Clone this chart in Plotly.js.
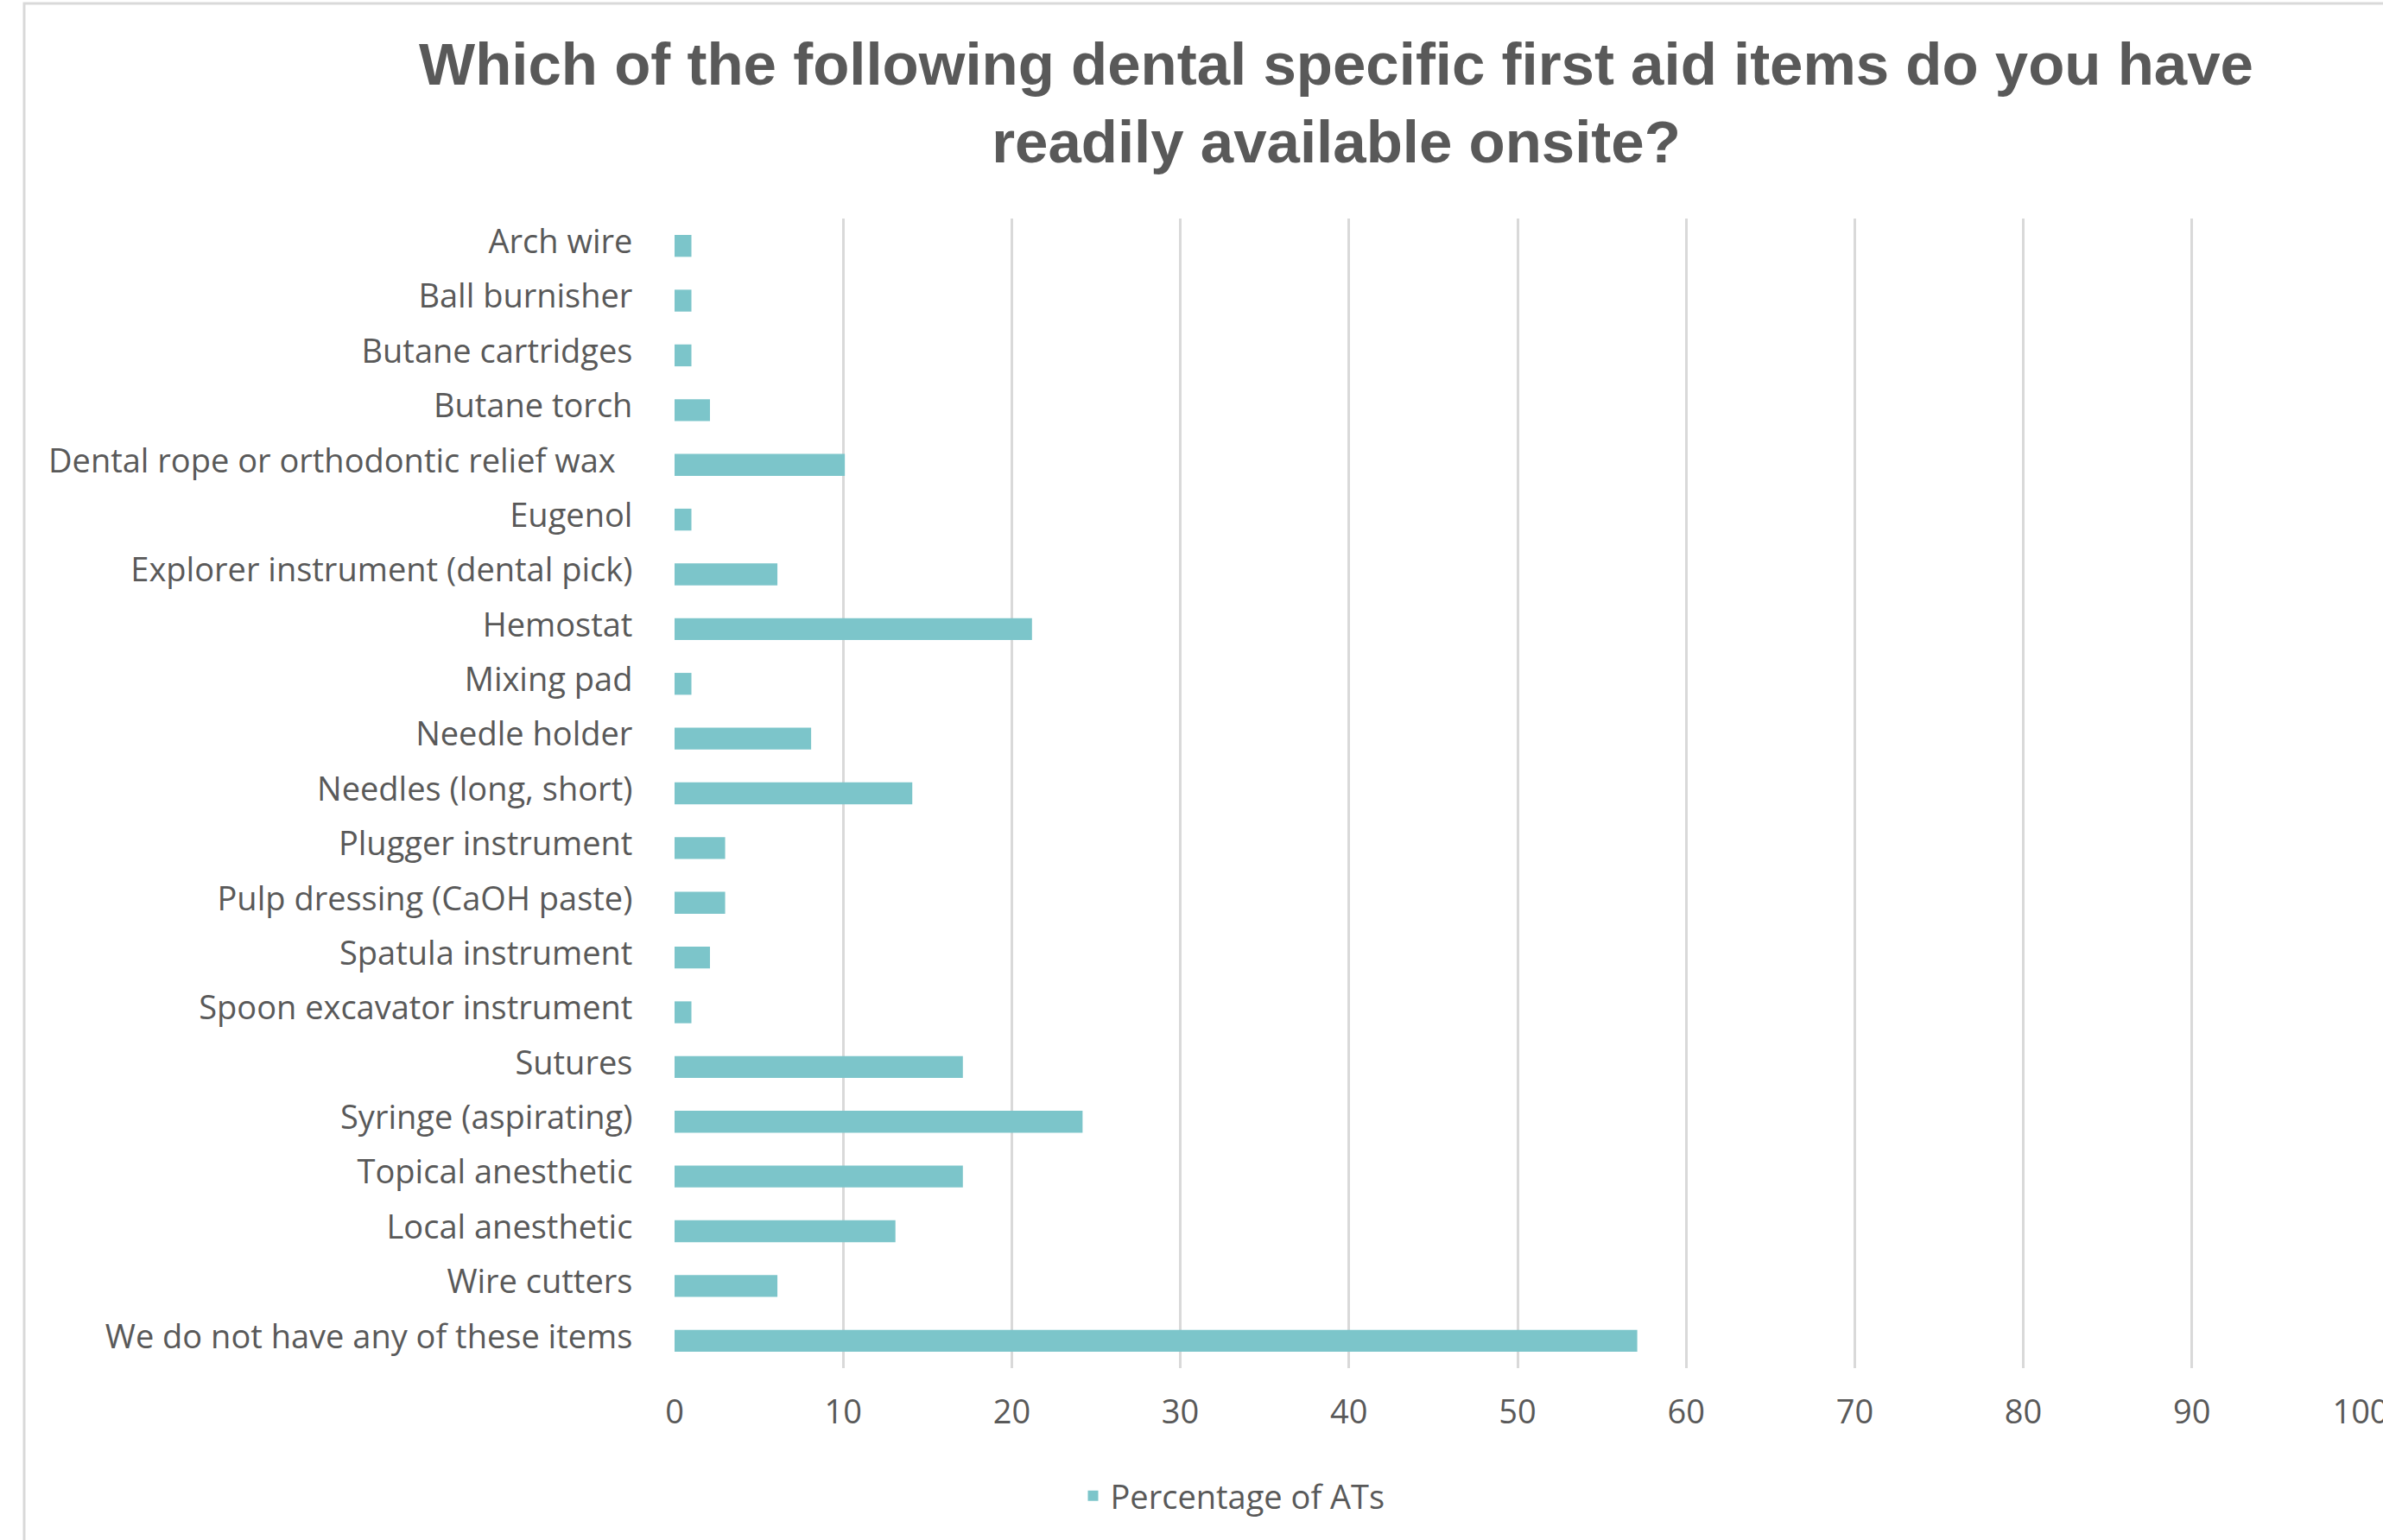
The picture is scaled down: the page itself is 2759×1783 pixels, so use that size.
<!DOCTYPE html>
<html>
<head>
<meta charset="utf-8">
<script src="https://cdn.plot.ly/plotly-3.0.1.min.js"></script>
<style>html,body{margin:0;padding:0;background:#fff;}#chart{width:2759px;height:1783px;}</style>
</head>
<body>
<div id="chart"></div>
<script>
const categories = [
  "Arch wire",
  "Ball burnisher",
  "Butane cartridges",
  "Butane torch",
  "Dental rope or orthodontic relief wax\u00a0\u00a0",
  "Eugenol",
  "Explorer instrument (dental pick)",
  "Hemostat",
  "Mixing pad",
  "Needle holder",
  "Needles (long, short)",
  "Plugger instrument",
  "Pulp dressing (CaOH paste)",
  "Spatula instrument",
  "Spoon excavator instrument",
  "Sutures",
  "Syringe (aspirating)",
  "Topical anesthetic",
  "Local anesthetic",
  "Wire cutters",
  "We do not have any of these items"
];
const percentages = [1, 1, 1, 2.1, 10.1, 1, 6.1, 21.2, 1, 8.1, 14.1, 3, 3, 2.1, 1, 17.1, 24.2, 17.1, 13.1, 6.1, 57.1];
const xTickValues = [0, 10, 20, 30, 40, 50, 60, 70, 80, 90, 100];
const seriesName = "Percentage of ATs";
const chartTitle = "Which of the following dental specific first aid items do you have<br>readily available onsite?";

const W = 2759, H = 1783;
const L = 781, R = 26, T = 253, B = 199;
const pw = W - L - R, ph = H - T - B;

const trace = {
  type: 'bar',
  orientation: 'h',
  x: percentages,
  y: categories,
  name: seriesName,
  marker: {color: '#7CC5CA'},
  hoverinfo: 'x+y'
};

const tickFont = {family: 'Open Sans, sans-serif', size: 38, color: '#595959'};

const layout = {
  width: W, height: H,
  paper_bgcolor: '#ffffff', plot_bgcolor: '#ffffff',
  margin: {l: L, r: R, t: T, b: B, pad: 0},
  title: {
    text: chartTitle,
    font: {family: 'Liberation Sans, Arial, sans-serif', size: 69, color: '#595959', weight: 'bold'},
    xref: 'container', yref: 'container',
    x: 1547 / W, xanchor: 'center',
    y: 1 - 98 / H, yanchor: 'top'
  },
  bargap: 0.6,
  xaxis: {
    range: [0, 100],
    tickvals: xTickValues,
    ticktext: xTickValues.map(String),
    ticklabeloverflow: 'allow',
    showgrid: true, gridcolor: '#D9D9D9', gridwidth: 3,
    zeroline: false, showline: false,
    ticks: 'outside', ticklen: 17, tickcolor: 'rgba(0,0,0,0)',
    tickfont: tickFont,
    fixedrange: true
  },
  yaxis: {
    type: 'category',
    categoryorder: 'array', categoryarray: categories,
    autorange: 'reversed',
    showgrid: false, zeroline: false, showline: false,
    ticks: 'outside', ticklen: 40, tickcolor: 'rgba(0,0,0,0)',
    ticklabelshift: 5,
    tickfont: tickFont,
    fixedrange: true
  },
  showlegend: true,
  legend: {
    orientation: 'h',
    x: (1427 - L) / pw, xanchor: 'center',
    y: -(1732 - (T + ph)) / ph, yanchor: 'middle',
    font: tickFont
  },
  shapes: [{
    type: 'rect', xref: 'paper', yref: 'paper',
    x0: (28 - L) / pw, x1: 1.2,
    y0: -0.5, y1: 1 + (T - 4) / ph,
    line: {color: '#D9D9D9', width: 3},
    fillcolor: 'rgba(0,0,0,0)',
    layer: 'below'
  }]
};

Plotly.newPlot('chart', [trace], layout, {staticPlot: true, displayModeBar: false});
</script>
</body>
</html>
